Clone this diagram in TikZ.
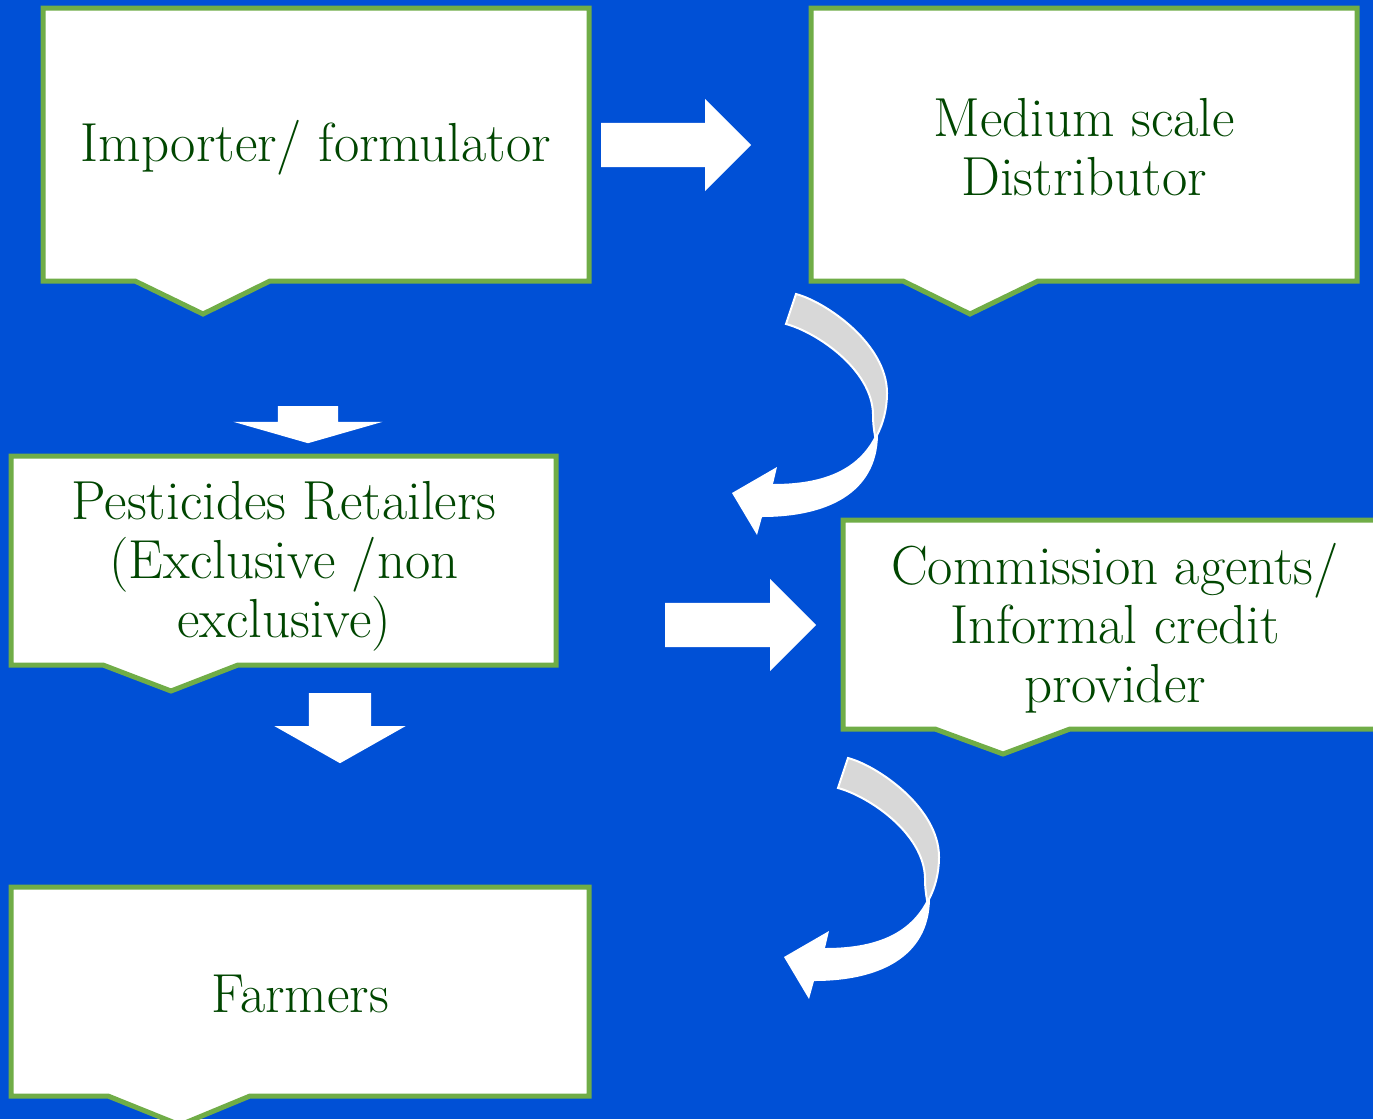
\documentclass[tikz,border=0pt]{standalone}
\usetikzlibrary{shapes.arrows}
\definecolor{bgblue}{RGB}{0,80,214}
\definecolor{edgegreen}{RGB}{112,173,71}
\definecolor{textgreen}{RGB}{0,70,0}
\definecolor{twistgray}{RGB}{216,216,216}
\tikzset{
  callout/.style={draw=edgegreen, line width=5pt, fill=white, line join=miter},
  box text/.style={text=textgreen, align=center, font={\fontsize{55}{59}\selectfont}},
  flow arrow/.style={single arrow, fill=white, inner xsep=0pt,
    single arrow head indent=0pt, anchor=tail},
  twist back/.style={fill=twistgray, draw=white, line width=2pt},
  twist front/.style={fill=white},
}
% curved arrow, origin at the outer start of its grey band
\newcommand\turnarrow[1]{
  \begin{scope}[shift={#1}]
    \draw [twist back] (0,0) .. controls (30,8) and (91,50) .. (91,99)
      .. controls (91,115) and (87,130) .. (81,141) -- (79,142)
      .. controls (78,136) and (77,130) .. (77,120)
      .. controls (76,75) and (20,38) .. (-10,30) -- cycle;
    \fill [twist front] (79,142) .. controls (60,180) and (20,190) .. (-23,190)
      -- (-19,173) -- (-64,199) -- (-39,241) -- (-34,223)
      .. controls (30,223) and (81,200) .. (82,141) -- cycle;
  \end{scope}
}

\begin{document}
\begin{tikzpicture}[x=1pt,y=-1pt]
  \useasboundingbox (0,0) rectangle (1373,1119);
  \clip (0,0) rectangle (1373,1119);
  \fill [bgblue] (0,0) rectangle (1373,1119);

  % boxes
  \draw [callout] (43,8) -- (589,8) -- (589,281) -- (270,281) -- (203,314)
    -- (135,281) -- (43,281) -- cycle;
  \node [box text] (importer) at (316,148) {Importer/ formulator};

  \draw [callout] (811,8) -- (1357,8) -- (1357,281) -- (1038,281) -- (970,314)
    -- (903,281) -- (811,281) -- cycle;
  \node [box text] (distributor) at (1084,147) {Medium scale\\Distributor};

  \draw [callout] (11,456) -- (556,456) -- (556,665) -- (238,665) -- (171,691)
    -- (103,665) -- (11,665) -- cycle;
  \node [box text] (retailers) at (284,566) {Pesticides Retailers\\(Exclusive /non\\exclusive)};

  \draw [callout] (843,520) -- (1387,520) -- (1387,729) -- (1070,729) -- (1003,754)
    -- (935,729) -- (843,729) -- cycle;
  \node [box text] (agents) at (1115,628) {Commission agents/\\Informal credit\\provider};

  \draw [callout] (11,887) -- (589,887) -- (589,1096) -- (250,1096) -- (180,1125)
    -- (108,1096) -- (11,1096) -- cycle;
  \node [box text] (farmers) at (300,994) {Farmers};

  % straight arrows
  \node [flow arrow, inner ysep=22pt, minimum height=150,
    single arrow head extend=24] (imp to dist) at (601,145) {};
  \node [flow arrow, inner ysep=22pt, minimum height=151,
    single arrow head extend=24] (ret to agt) at (665,625) {};
  \node [flow arrow, rotate=-90, inner ysep=30pt, minimum height=37,
    single arrow head extend=44.5, single arrow tip angle=148] (imp to ret) at (308,406) {};
  \node [flow arrow, rotate=-90, inner ysep=31pt, minimum height=70,
    single arrow head extend=34.5, single arrow tip angle=121] (ret to farm) at (340,693) {};

  % curved arrows
  \turnarrow{(796,294)}
  \turnarrow{(848,758)}
\end{tikzpicture}
\end{document}
